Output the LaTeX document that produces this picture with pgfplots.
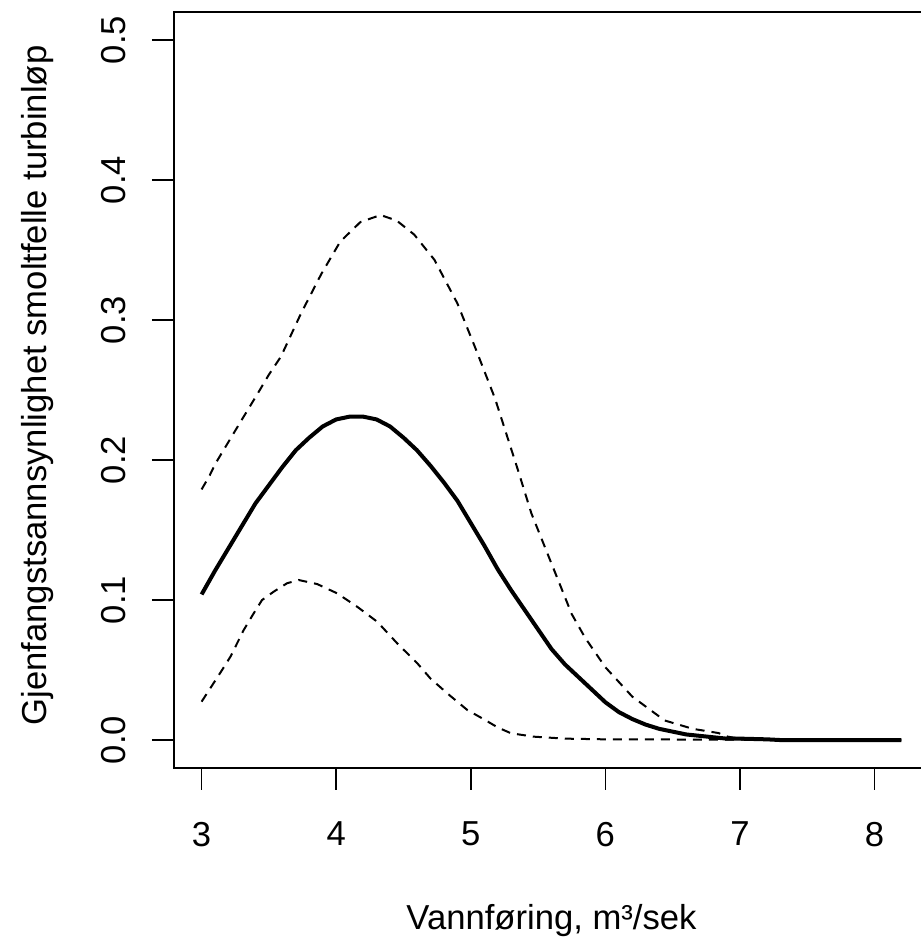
\documentclass[border=0pt]{standalone}
\usepackage{pgfplots}
\pgfplotsset{compat=1.18}
\usepackage{fontspec}
\setmainfont{Liberation Sans}
\begin{document}
\fontsize{17.3}{20}\selectfont
\begin{tikzpicture}
\begin{axis}[
  scale only axis,
  width=377.4pt, height=377.5pt,
  xmin=2.792, xmax=8.408, ymin=-0.02, ymax=0.52,
  xtick={3,4,5,6,7,8}, ytick={0,0.1,0.2,0.3,0.4,0.5},
  xtick pos=left, ytick pos=left,
  tick align=outside, major tick length=10.8pt,
  minor tick num=0,
  every tick/.style={black, line width=0.8pt},
  axis line style={line width=1pt},
  /pgf/number format/assume math mode=true,
  y tick label style={/pgf/number format/fixed, /pgf/number format/fixed zerofill, /pgf/number format/precision=1, rotate=90, anchor=base, inner sep=0pt},
  xticklabel style={inner sep=0pt, anchor=north},
  xticklabel shift=16pt,
  yticklabel shift=13.3pt,
  xlabel={Vannføring, m³/sek},
  ylabel={Gjenfangstsannsynlighet smoltfelle turbinløp},
  every axis x label/.style={at={(axis description cs:0.5,0)}, anchor=base, yshift=-80.5pt, inner sep=0pt},
  every axis y label/.style={at={(axis description cs:-0.1679,0.506)}, rotate=90, anchor=base, inner sep=0pt},
]
\addplot[black, line width=2pt] coordinates {
(3.0,0.104) (3.1,0.121) (3.2,0.137) (3.3,0.153) (3.4,0.169) (3.5,0.182)
(3.6,0.195) (3.7,0.207) (3.8,0.216) (3.9,0.224) (4.0,0.229) (4.1,0.231)
(4.2,0.231) (4.3,0.229) (4.4,0.224) (4.5,0.216) (4.6,0.207) (4.7,0.196)
(4.8,0.184) (4.9,0.171) (5.0,0.155) (5.1,0.139) (5.2,0.122) (5.3,0.107)
(5.4,0.093) (5.5,0.079) (5.6,0.065) (5.7,0.054) (5.8,0.045) (5.9,0.036)
(6.0,0.027) (6.1,0.020) (6.2,0.015) (6.3,0.011) (6.4,0.008) (6.5,0.006)
(6.6,0.004) (6.7,0.003) (6.8,0.002) (6.9,0.001) (7.0,0.001) (7.2,0.0005)
(7.3,0) (8.2,0)
};
\addplot[black, line width=1pt, dash pattern=on 4.5pt off 3.5pt] coordinates {
(3.0,0.179) (3.06,0.189) (3.1,0.197) (3.2,0.213) (3.3,0.229) (3.42,0.248)
(3.5,0.261) (3.59,0.274) (3.74,0.305) (3.89,0.333) (4.03,0.356) (4.18,0.370)
(4.33,0.375) (4.45,0.371) (4.58,0.361) (4.73,0.343) (4.9,0.312) (5.03,0.281)
(5.18,0.244) (5.35,0.193) (5.45,0.162) (5.6,0.126) (5.75,0.090) (5.85,0.073)
(6.0,0.052) (6.2,0.031) (6.44,0.014) (6.65,0.008) (6.84,0.005) (6.91,0.0024)
(7.0,0.001) (7.2,0.0003) (7.5,0) (8.2,0)
};
\addplot[black, line width=1pt, dash pattern=on 4.5pt off 3.5pt] coordinates {
(3.0,0.0274) (3.152,0.050) (3.214,0.0595) (3.313,0.0786) (3.387,0.0905)
(3.449,0.100) (3.536,0.106) (3.635,0.112) (3.722,0.1143) (3.859,0.1114)
(4.007,0.1048) (4.156,0.0952) (4.305,0.0845) (4.454,0.069) (4.603,0.0548)
(4.70,0.044) (4.826,0.0333) (4.975,0.0214) (5.098,0.0148) (5.2,0.009)
(5.3,0.0048) (5.47,0.0024) (5.7,0.001) (6.0,0.0005) (8.2,0)
};
\coordinate (bbsw) at (axis cs:1.502,-0.1414);
\coordinate (bbne) at (axis cs:8.340,0.5286);
\end{axis}
\pgfresetboundingbox
\path (bbsw) rectangle (bbne);
\end{tikzpicture}
\end{document}
